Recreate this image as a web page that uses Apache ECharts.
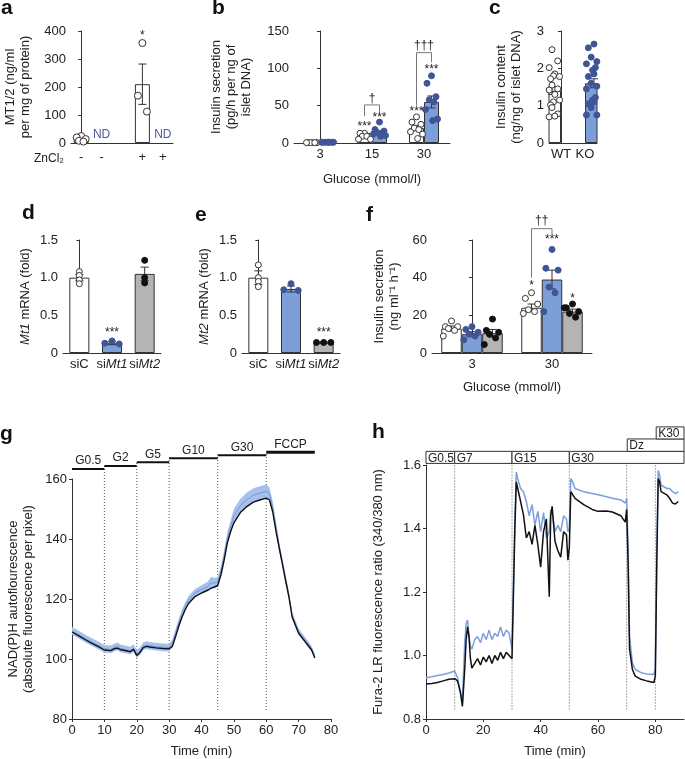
<!DOCTYPE html>
<html><head><meta charset="utf-8">
<script src="https://cdn.jsdelivr.net/npm/echarts@6/dist/echarts.min.js"></script>
<style>html,body{margin:0;padding:0;background:#fff}#c{width:685px;height:759px}</style>
</head><body><div id="c"></div>
<script>
// ================= DATA =================
// panel a
const aCats = ['-', '-', '', '+', '+'];
const aMean = [17, null, null, 210, null];
const aSem = [4, null, null, 72, null];
const aPts = [[25, 20, 14, 8, 5], [], [], [357, 169, 112], []];
// panel b
const bCats = ['3', '15', '30'];
const bWTMean = [0.5, 10, 20];
const bWTSem = [0.2, 1.2, 3.5];
const bWTPts = [[0.5, 0.5, 0.5, 0.5, 0.5, 0.5], [13, 13, 9, 9, 9, 5, 5], [35, 28, 25, 20, 18, 15, 12, 6]];
const bKOMean = [1, 14, 55];
const bKOSem = [0.2, 2, 8];
const bKOPts = [[1, 1, 1, 1, 1, 1, 1, 1], [28, 18, 16, 14, 13, 12, 10, 9], [90, 80, 62, 58, 55, 45, 32, 30]];
// panel c
const cCats = ['WT', 'KO'];
const cMean = [1.4, 1.6];
const cSem = [0.1, 0.12];
const cWTPts = [2.5, 2.3, 2.2, 2.02, 1.85, 1.8, 1.78, 1.8, 1.72, 1.55, 1.5, 1.45, 1.42, 1.3, 1.2, 1.15, 1.1, 1.02, 0.95, 0.9, 0.78, 0.7, 0.72, 0.75];
const cKOPts = [2.65, 2.55, 2.42, 2.3, 2.18, 2.12, 2.08, 2.02, 1.95, 1.85, 1.78, 1.7, 1.6, 1.52, 1.45, 1.35, 1.22, 1.15, 1.1, 1.05, 1.0, 0.95, 0.75, 0.75];
// panel d
const siCats = ['siC', 'siMt1', 'siMt2'];
const dMean = [1.0, 0.13, 1.05];
const dSem = [0.04, 0.02, 0.09];
const dPts = [[1.08, 1.03, 0.97, 0.92], [0.16, 0.13, 0.12], [1.23, 1.0, 0.93]];
// panel e
const eMean = [1.0, 0.85, 0.14];
const eSem = [0.09, 0.04, 0.01];
const ePts = [[1.17, 1.0, 0.95, 0.88], [0.92, 0.84, 0.83], [0.14, 0.14, 0.14]];
// panel f
const fCats = ['3', '30'];
const fCMean = [13, 24], fCSem = [1.3, 2];
const fCPts = [[17, 14, 14, 13, 12, 9], [32, 29, 26, 23, 22, 21]];
const fAMean = [10, 39], fASem = [1.3, 5];
const fAPts = [[14, 12.5, 11, 10, 9, 7], [55, 45, 44, 35, 32, 22]];
const fBMean = [10.5, 22], fBSem = [2, 1.3];
const fBPts = [[18, 12, 11, 10, 8, 4.5], [26, 24, 22, 21, 19, 24]];
// panel g
const gTime = [0,2,4,6,8,10,12,13,14,15,16,18,19,20,21,22,23,24,26,28,30,31,32,33,34,35,36,38,40,42,43,44,45,46,47,48,49,50,52,54,56,58,60,61,62,63,64,65,66,67,68,70,72,73,74,75];
const gBlack = [109,107.8,106.5,105.3,104.2,103,102.8,103.4,103.6,103.1,102.9,102.4,103.2,101.2,102.2,103.8,104.2,104,103.7,103.5,103.4,104.2,107.5,111,114,116.5,118.5,120.8,122,123,123.6,124,124.5,128,133,138.8,142.5,145.4,148.8,150.8,152.3,153,153.6,153,149,142.6,137,131.6,126,120.7,114,108.6,105.8,104.4,103,100.3];
const gBlue = [109.4,108.2,106.9,105.7,104.6,103.4,103.2,103.8,104.2,103.5,103.3,102.8,103.6,101.6,102.6,104.2,104.6,104.4,104.1,103.9,103.8,105.2,108.7,112.2,115.2,117.7,119.7,122,123.2,124.2,125.4,125.3,125.7,129.5,134.5,140.3,144,147.7,151.1,153.1,154.6,155.3,155.9,155,150.5,144.1,137.5,132.1,126.5,121.2,114.5,109.1,106.3,104.8,103.5,100.8];
const gBlueSem = [1.3,1.3,1.3,1.3,1.3,1.3,1.3,1.3,1.3,1.3,1.3,1.3,1.3,1.3,1.3,1.3,1.3,1.3,1.3,1.3,1.3,1.3,1.3,1.3,1.3,1.3,1.3,1.3,1.4,1.6,2,1.7,1.6,1.5,1.8,2,2.2,2.3,2.3,2.3,2.3,2.3,2.3,2.2,2,1.8,1.6,1.5,1.4,1.3,1.2,1.1,1,1,0.9,0.8];
const gStimNames = ['G0.5', 'G2', 'G5', 'G10', 'G30', 'FCCP'];
const gStimFrom = [0, 10, 20, 30, 45, 60];
const gStimTo = [10, 20, 30, 45, 60, 75];
const gStimLevel = [163.3, 164.3, 165.6, 166.9, 167.9, 168.9];
// panel h
const hTime = [0,2,4,6,8,10,11,12,12.7,13.5,14,14.5,15,15.5,16,17,18,19,20,21,22,23,24,25,26,27,28,29,30,31,31.5,32,33,34,35,36,37,38,39,40,41,42,43,43.5,44,45,46,47,48,49,49.5,50,50.5,51,52,55,58,60,63,65,68,69.5,70,70.5,71,72,73,75,77,79.5,80,80.5,81,81.5,82,84,85,86,87,88];
const hBlack = [0.91,0.912,0.915,0.92,0.925,0.927,0.92,0.884,0.84,0.956,1.05,1.09,1.06,0.99,0.96,0.975,0.99,0.97,0.995,0.98,1.0,0.975,1.0,0.985,1.01,0.99,1.01,1.0,0.99,1.40,1.547,1.526,1.485,1.443,1.37,1.39,1.35,1.41,1.35,1.278,1.39,1.43,1.185,1.44,1.47,1.36,1.33,1.31,1.39,1.38,1.30,1.34,1.516,1.516,1.495,1.475,1.46,1.454,1.455,1.452,1.44,1.42,1.46,1.29,1.02,0.956,0.935,0.925,0.92,0.915,0.936,1.29,1.557,1.547,1.516,1.506,1.495,1.48,1.477,1.485];
const hBlue = [0.93,0.933,0.937,0.94,0.945,0.951,0.93,0.884,0.853,1.04,1.10,1.112,1.06,1.03,1.02,1.05,1.06,1.04,1.07,1.05,1.08,1.05,1.07,1.06,1.09,1.06,1.08,1.07,1.02,1.43,1.578,1.557,1.526,1.516,1.485,1.44,1.475,1.41,1.454,1.39,1.45,1.37,1.39,1.46,1.45,1.39,1.41,1.39,1.44,1.43,1.39,1.40,1.557,1.55,1.526,1.516,1.51,1.506,1.50,1.495,1.49,1.48,1.495,1.34,1.06,0.977,0.956,0.946,0.942,0.94,0.956,1.33,1.583,1.568,1.537,1.526,1.526,1.516,1.51,1.516];
const hStimNames = ['G0.5', 'G7', 'G15', 'G30', 'Dz', 'K30'];
const hStimFrom = [0, 10, 30, 50, 70.2, 80.3];
const hStimTo = [10, 30, 50, 90, 90, 90];
const hStimRow = [0, 0, 0, 0, 1, 2];
const hRowEdges = [1.605, 1.643, 1.682, 1.72];
const hMarks = [10, 30, 50, 70, 80];
const gMarks = [10, 20, 30, 45, 60];

// ================= STYLE / BUILD =================
const FONT = '"Liberation Sans", Arial, Helvetica, sans-serif';
const C_AX = '#333';
const TXT = '#222';
const BLUE_BAR = '#7c9fd8';
const BLUE_DOT = '#3f5595';
const GREY_BAR = '#b4b4b4';
const RICH = {
  n: {fontSize: 13, fontFamily: FONT, color: TXT},
  i: {fontSize: 13, fontFamily: FONT, color: TXT, fontStyle: 'italic'}
};
const JIT = [0, -0.6, 0.6, -0.3, 0.3, -0.8, 0.8, 0.15, -0.15];

const option = {animation: false, textStyle: {fontFamily: FONT}, grid: [], xAxis: [], yAxis: [], series: [], graphic: []};

function yAxisCfg(gi, p) {
  return {
    type: 'value', gridIndex: gi, min: p.yMin, max: p.yMax, interval: p.yInt,
    axisLine: {show: true, lineStyle: {color: C_AX, width: 1}},
    axisTick: {show: true, length: 3, lineStyle: {color: C_AX}},
    splitLine: {show: false},
    axisLabel: {color: TXT, fontSize: 13, fontFamily: FONT, margin: 5, formatter: p.yFmt},
    name: p.yName, nameLocation: 'middle', nameGap: p.nameGap, nameRotate: 90,
    nameTextStyle: {color: TXT, fontSize: 13, fontFamily: FONT, lineHeight: 15, rich: RICH}
  };
}

function errRender(params, api) {
  const x = api.value(0), m = api.value(1), s = api.value(2);
  const t = api.coord([x, m + s]), b = api.coord([x, m - s]);
  const cw = 4;
  const st = {stroke: C_AX, lineWidth: 1};
  return {type: 'group', children: [
    {type: 'line', shape: {x1: t[0], y1: t[1], x2: b[0], y2: b[1]}, style: st},
    {type: 'line', shape: {x1: t[0] - cw, y1: t[1], x2: t[0] + cw, y2: t[1]}, style: st},
    {type: 'line', shape: {x1: b[0] - cw, y1: b[1], x2: b[0] + cw, y2: b[1]}, style: st}
  ]};
}

function addTexts(xi, yi, items, color, size) {
  option.series.push({
    type: 'custom', xAxisIndex: xi, yAxisIndex: yi, clip: false, z: 8,
    data: items.map((t, k) => [t[0], t[1], k]),
    renderItem: (params, api) => {
      const k = api.value(2);
      const c = api.coord([api.value(0), api.value(1)]);
      return {type: 'text', x: c[0], y: c[1], style: {text: items[k][2], fill: color, fontSize: size, fontFamily: FONT, align: 'center', verticalAlign: 'middle'}};
    }
  });
}

function addBracket(xi, yi, pts) {
  option.series.push({type: 'line', xAxisIndex: xi, yAxisIndex: yi, clip: false, symbol: 'none', z: 7,
    lineStyle: {color: '#777', width: 1}, data: pts});
}

function addBarPanel(p) {
  const gi = option.grid.length;
  option.grid.push({left: p.left, top: p.top, width: p.width, height: p.height});
  const xc = option.xAxis.length;
  option.xAxis.push({
    type: 'category', gridIndex: gi, data: p.cats,
    axisLine: {lineStyle: {color: C_AX}}, axisTick: {show: false},
    axisLabel: {color: TXT, fontSize: 13, fontFamily: FONT, margin: p.xMargin || 5, interval: 0, formatter: p.xFmt, rich: RICH},
    name: p.xName || '', nameLocation: 'middle', nameGap: p.xNameGap || 30,
    nameTextStyle: {color: TXT, fontSize: 13, fontFamily: FONT}
  });
  option.xAxis.push({type: 'value', gridIndex: gi, min: -0.5, max: p.cats.length - 0.5, show: false});
  const yi = option.yAxis.length;
  option.yAxis.push(yAxisCfg(gi, p));
  const slot = p.width / p.cats.length;
  const m = p.groups.length;
  const offs = p.groups.map((g, s) => (s - (m - 1) / 2) * p.barWidth / slot);
  const half = p.barWidth / 2 / slot;
  p.groups.forEach((g, s) => {
    option.series.push({type: 'bar', xAxisIndex: xc, yAxisIndex: yi, barWidth: p.barWidth, barGap: '0%',
      data: g.mean.map((v, i) => v == null ? '-' : (g.fills ? {value: v, itemStyle: {color: g.fills[i]}} : v)),
      itemStyle: {color: g.fill, borderColor: C_AX, borderWidth: 1}, z: 2});
    option.series.push({type: 'custom', xAxisIndex: xc + 1, yAxisIndex: yi, z: 4, clip: false,
      data: g.mean.map((v, i) => v == null ? null : [i + offs[s], v, g.sem[i]]).filter(d => d),
      renderItem: errRender});
    const pts = [];
    g.pts.forEach((arr, i) => arr.forEach((v, k) => {
      const sp = Array.isArray(g.spread) ? g.spread[i] : (g.spread == null ? 1 : g.spread);
      const x = i + offs[s] + JIT[k % JIT.length] * half * sp;
      if (g.dots) {
        const col = g.dots[i];
        pts.push({value: [x, v], itemStyle: {color: col === 'open' ? '#fff' : col, borderColor: col === 'open' ? C_AX : col}});
      } else pts.push([x, v]);
    }));
    option.series.push({type: 'scatter', xAxisIndex: xc + 1, yAxisIndex: yi, z: 5, data: pts,
      symbolSize: p.dot || 6,
      itemStyle: {color: g.open ? '#fff' : g.dot, borderColor: g.open ? C_AX : g.dot, borderWidth: 1, opacity: 1}});
  });
  return {xv: xc + 1, yi: yi, pos: (c, s) => c + offs[s]};
}

// ---- panel a ----
const A = addBarPanel({left: 71, top: 31, width: 102, height: 112, cats: aCats, yMin: 0, yMax: 400, yInt: 100,
  yName: 'MT1/2 (ng/ml\nper mg of protein)', nameGap: 38, barWidth: 15, dot: 7, xMargin: 8,
  groups: [{mean: aMean, sem: aSem, pts: aPts, fill: '#fff', open: true, spread: 1}]});
addTexts(A.xv, A.yi, [[A.pos(1, 0), 28, 'ND'], [A.pos(4, 0), 28, 'ND']], '#4a5a9e', 12);
addTexts(A.xv, A.yi, [[A.pos(3, 0), 385, '*']], TXT, 12);

// ---- panel b ----
const B = addBarPanel({left: 294, top: 31, width: 156, height: 112, cats: bCats, yMin: 0, yMax: 150, yInt: 50,
  yName: 'Insulin secretion\n(pg/h per ng of\nislet DNA)', nameGap: 40, barWidth: 15, dot: 6,
  xName: 'Glucose (mmol/l)', xNameGap: 30,
  groups: [
    {mean: bWTMean, sem: bWTSem, pts: bWTPts, fill: '#fff', open: true, spread: 1},
    {mean: bKOMean, sem: bKOSem, pts: bKOPts, fill: BLUE_BAR, dot: BLUE_DOT, spread: 1}
  ]});
addTexts(B.xv, B.yi, [
  [B.pos(1, 0), 22, '***'], [B.pos(1, 1), 34, '***'],
  [B.pos(2, 0), 42, '***'], [B.pos(2, 1), 98, '***'],
  [(B.pos(1, 0) + B.pos(1, 1)) / 2, 60, '†'], [(B.pos(2, 0) + B.pos(2, 1)) / 2, 130, '†††']
], TXT, 12);
addBracket(B.xv, B.yi, [[B.pos(1, 0), 36], [B.pos(1, 0), 51], [B.pos(1, 1), 51], [B.pos(1, 1), 40]]);
addBracket(B.xv, B.yi, [[B.pos(2, 0), 50], [B.pos(2, 0), 121], [B.pos(2, 1), 121], [B.pos(2, 1), 108]]);

// ---- panel c ----
addBarPanel({left: 549, top: 31, width: 48, height: 112, cats: cCats, yMin: 0, yMax: 3, yInt: 1,
  yName: 'Insulin content\n(ng/ng of islet DNA)', nameGap: 25, barWidth: 18, dot: 6,
  groups: [
    {mean: [cMean[0], null], sem: [cSem[0], null], pts: [cWTPts, []], fill: '#fff', open: true, spread: 1.05},
    {mean: [null, cMean[1]], sem: [null, cSem[1]], pts: [[], cKOPts], fill: BLUE_BAR, dot: BLUE_DOT, spread: 1.05}
  ]});

// ---- panel d / e ----
const siFmt = v => v === 'siC' ? '{n|siC}' : '{n|si}{i|' + v.slice(2) + '}';
const decFmt = v => v === 0 ? '0' : v.toFixed(1);
const D = addBarPanel({left: 63, top: 240, width: 98, height: 113, cats: siCats, yMin: 0, yMax: 1.5, yInt: 0.5, yFmt: decFmt,
  yName: '{i|Mt1}{n| mRNA (fold)}', nameGap: 30, barWidth: 20, dot: 6, xFmt: siFmt,
  groups: [{mean: dMean, sem: dSem, pts: dPts, fills: ['#fff', BLUE_BAR, GREY_BAR], dots: ['open', BLUE_DOT, '#111'], spread: [0, 1.2, 0]}]});
addTexts(D.xv, D.yi, [[1, 0.27, '***']], TXT, 12);

const E = addBarPanel({left: 242, top: 240, width: 98, height: 113, cats: siCats, yMin: 0, yMax: 1.5, yInt: 0.5, yFmt: decFmt,
  yName: '{i|Mt2}{n| mRNA (fold)}', nameGap: 30, barWidth: 20, dot: 6, xFmt: siFmt,
  groups: [{mean: eMean, sem: eSem, pts: ePts, fills: ['#fff', BLUE_BAR, GREY_BAR], dots: ['open', BLUE_DOT, '#111'], spread: [0, 1.2, 1.2]}]});
addTexts(E.xv, E.yi, [[2, 0.27, '***']], TXT, 12);

// ---- panel f ----
const F = addBarPanel({left: 432, top: 240, width: 160, height: 113, cats: fCats, yMin: 0, yMax: 60, yInt: 20,
  yName: 'Insulin secretion\n(ng ml⁻¹ h⁻¹)', nameGap: 30, barWidth: 20.5, dot: 6,
  xName: 'Glucose (mmol/l)', xNameGap: 28,
  groups: [
    {mean: fCMean, sem: fCSem, pts: fCPts, fill: '#fff', open: true, spread: 1},
    {mean: fAMean, sem: fASem, pts: fAPts, fill: BLUE_BAR, dot: BLUE_DOT, spread: 1},
    {mean: fBMean, sem: fBSem, pts: fBPts, fill: GREY_BAR, dot: '#111', spread: 1}
  ]});
addTexts(F.xv, F.yi, [[F.pos(1, 0), 36, '*'], [F.pos(1, 1), 60, '***'], [F.pos(1, 2), 29, '*'],
  [(F.pos(1, 0) + F.pos(1, 1)) / 2, 70, '††']], TXT, 12);
addBracket(F.xv, F.yi, [[F.pos(1, 0), 40], [F.pos(1, 0), 66], [F.pos(1, 1), 66], [F.pos(1, 1), 63]]);

// ---- line panels ----
function addLinePanel(p) {
  const gi = option.grid.length;
  option.grid.push({left: p.left, top: p.top, width: p.width, height: p.height});
  const xi = option.xAxis.length;
  option.xAxis.push({type: 'value', gridIndex: gi, min: p.xMin, max: p.xMax, interval: p.xInt,
    axisLine: {lineStyle: {color: C_AX}}, axisTick: {length: 3, lineStyle: {color: C_AX}}, splitLine: {show: false},
    axisLabel: {color: TXT, fontSize: 13, fontFamily: FONT, margin: 5, showMaxLabel: p.showMax},
    name: 'Time (min)', nameLocation: 'middle', nameGap: 26, nameTextStyle: {color: TXT, fontSize: 13, fontFamily: FONT}});
  const yi = option.yAxis.length;
  option.yAxis.push(yAxisCfg(gi, p));
  return {xi, yi};
}

const G = addLinePanel({left: 72, top: 479, width: 259, height: 243, xMin: 0, xMax: 80, xInt: 10, showMax: true,
  yMin: 80, yMax: 160, yInt: 20, yName: 'NAD(P)H autoflourescence\n(absolute fluorescence per pixel)', nameGap: 36});
// SEM band of the blue trace, drawn as one polygon through the axis scales
option.series.push({type: 'custom', xAxisIndex: G.xi, yAxisIndex: G.yi, z: 2, clip: true,
  data: [[0]],
  renderItem: (params, api) => {
    const up = gTime.map((t, i) => api.coord([t, gBlue[i] + gBlueSem[i]]));
    const lo = gTime.map((t, i) => api.coord([t, gBlue[i] - gBlueSem[i]])).reverse();
    return {type: 'polygon', shape: {points: up.concat(lo)}, style: {fill: '#a6c1ee', stroke: null}};
  }});
option.series.push({type: 'line', xAxisIndex: G.xi, yAxisIndex: G.yi, symbol: 'none', z: 3,
  lineStyle: {color: '#7898d4', width: 1}, data: gTime.map((t, i) => [t, gBlue[i]])});
option.series.push({type: 'line', xAxisIndex: G.xi, yAxisIndex: G.yi, symbol: 'none', z: 4,
  lineStyle: {color: '#111', width: 1.4}, data: gTime.map((t, i) => [t, gBlack[i]])});
option.series.push({type: 'custom', xAxisIndex: G.xi, yAxisIndex: G.yi, clip: false, z: 1,
  data: gMarks.map(x => [x, gStimLevel[gStimFrom.indexOf(x)]]),
  renderItem: (params, api) => {
    const a = api.coord([api.value(0), 83]), b = api.coord([api.value(0), api.value(1)]);
    return {type: 'line', shape: {x1: a[0], y1: a[1], x2: b[0], y2: b[1]}, style: {stroke: '#555', lineWidth: 1, lineDash: [1, 2]}};
  }});
option.series.push({type: 'custom', xAxisIndex: G.xi, yAxisIndex: G.yi, clip: false, z: 6,
  data: gStimNames.map((n, k) => [gStimFrom[k], gStimTo[k], gStimLevel[k], k]),
  renderItem: (params, api) => {
    const k = api.value(3);
    const a = api.coord([api.value(0), api.value(2)]), b = api.coord([api.value(1), api.value(2)]);
    return {type: 'group', children: [
      {type: 'line', shape: {x1: a[0], y1: a[1], x2: b[0], y2: b[1]}, style: {stroke: '#111', lineWidth: k === 5 ? 3 : 2}},
      {type: 'text', x: (a[0] + b[0]) / 2, y: a[1] - 2, style: {text: gStimNames[k], fill: TXT, fontSize: 12, fontFamily: FONT, align: 'center', verticalAlign: 'bottom'}}
    ]};
  }});

const H = addLinePanel({left: 426, top: 465, width: 258, height: 256, xMin: 0, xMax: 90, xInt: 20, showMax: false,
  yMin: 0.8, yMax: 1.6, yInt: 0.2, yFmt: v => v.toFixed(1), yName: 'Fura-2 LR fluorescence ratio (340/380 nm)', nameGap: 40});
option.series.push({type: 'custom', xAxisIndex: H.xi, yAxisIndex: H.yi, clip: false, z: 1,
  data: hMarks.map(x => [x]),
  renderItem: (params, api) => {
    const a = api.coord([api.value(0), 0.83]), b = api.coord([api.value(0), hRowEdges[0]]);
    return {type: 'line', shape: {x1: a[0], y1: a[1], x2: b[0], y2: b[1]}, style: {stroke: '#555', lineWidth: 1, lineDash: [1, 2]}};
  }});
option.series.push({type: 'line', xAxisIndex: H.xi, yAxisIndex: H.yi, symbol: 'none', z: 3,
  lineStyle: {color: '#7c9fda', width: 1.5}, data: hTime.map((t, i) => [t, hBlue[i]])});
option.series.push({type: 'line', xAxisIndex: H.xi, yAxisIndex: H.yi, symbol: 'none', z: 4,
  lineStyle: {color: '#111', width: 1.5}, data: hTime.map((t, i) => [t, hBlack[i]])});
option.series.push({type: 'custom', xAxisIndex: H.xi, yAxisIndex: H.yi, clip: false, z: 6,
  data: hStimNames.map((n, k) => [hStimFrom[k], hStimTo[k], hStimRow[k], k]),
  renderItem: (params, api) => {
    const k = api.value(3), r = api.value(2);
    const a = api.coord([api.value(0), hRowEdges[r]]), b = api.coord([api.value(1), hRowEdges[r + 1]]);
    return {type: 'group', children: [
      {type: 'rect', shape: {x: a[0], y: b[1], width: b[0] - a[0], height: a[1] - b[1]}, style: {fill: '#fff', stroke: '#333', lineWidth: 1}},
      {type: 'text', x: a[0] + 2, y: (a[1] + b[1]) / 2 + 1, style: {text: hStimNames[k], fill: TXT, fontSize: 12, fontFamily: FONT, align: 'left', verticalAlign: 'middle'}}
    ]};
  }});

// ---- panel letters & misc text ----
const letters = [['a', 1, -2], ['b', 212, -2], ['c', 489, -2], ['d', 22, 203], ['e', 195, 205], ['f', 366, 205], ['g', 0, 424], ['h', 372, 422]];
letters.forEach(l => option.graphic.push({type: 'text', left: l[1], top: l[2], style: {text: l[0], fontSize: 21, fontWeight: 'bold', fontFamily: FONT, fill: '#111'}}));
option.graphic.push({type: 'text', left: 34, top: 153, style: {text: 'ZnCl₂', fontSize: 12, fontFamily: FONT, fill: TXT}});

const chart = echarts.init(document.getElementById('c'), null, {renderer: 'canvas'});
chart.setOption(option);
</script></body></html>
